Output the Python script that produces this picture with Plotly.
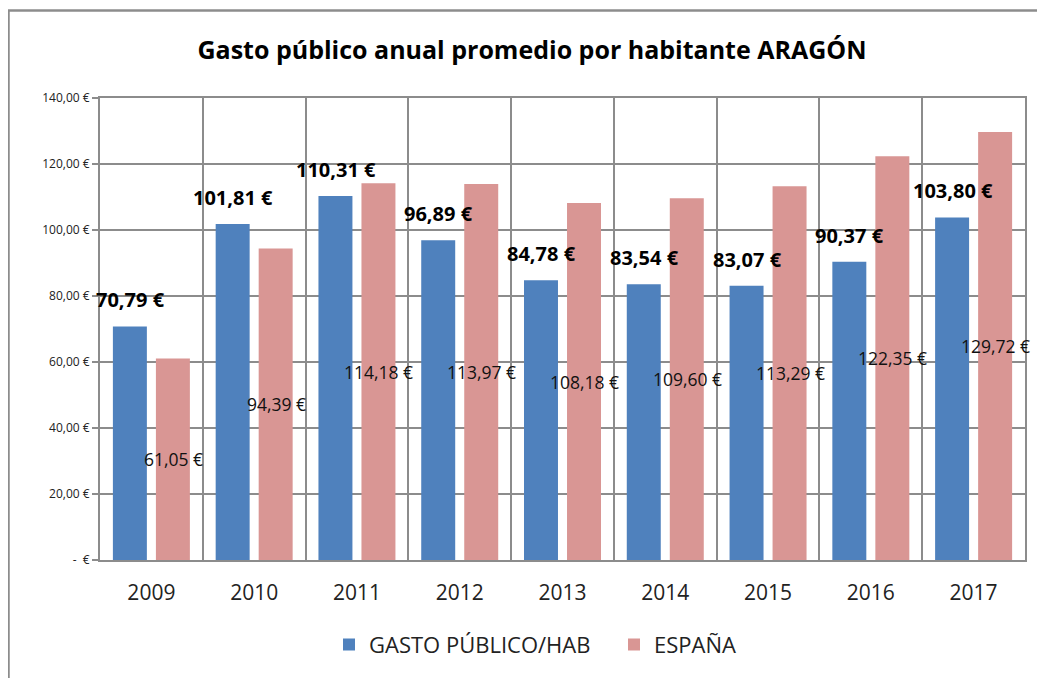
import plotly.graph_objects as go

years = ["2009", "2010", "2011", "2012", "2013", "2014", "2015", "2016", "2017"]
gasto = [70.79, 101.81, 110.31, 96.89, 84.78, 83.54, 83.07, 90.37, 103.80]
espana = [61.05, 94.39, 114.18, 113.97, 108.18, 109.60, 113.29, 122.35, 129.72]
ytick_vals = [0, 20, 40, 60, 80, 100, 120, 140]
ytick_text = ["-  €", "20,00 €", "40,00 €", "60,00 €", "80,00 €", "100,00 €", "120,00 €", "140,00 €"]

BLUE = "#4F81BD"
PINK = "#D99694"
GRID = "#8C8C8C"
FONT = "Open Sans"

def eur(v):
    return f"{v:.2f}".replace(".", ",") + " €"

fig = go.Figure()
fig.add_trace(go.Bar(x=years, y=gasto, name="GASTO PÚBLICO/HAB", marker_color=BLUE,
                     marker_line_width=0))
fig.add_trace(go.Bar(x=years, y=espana, name="ESPAÑA", marker_color=PINK,
                     marker_line_width=0))

annotations = []
for i, (g, e) in enumerate(zip(gasto, espana)):
    annotations.append(dict(x=i, y=g, text=eur(g), showarrow=False, xref="x", yref="y",
                            xanchor="center", yanchor="bottom", xshift=-21, yshift=11,
                            font=dict(family=FONT, size=20, color="#000000", weight="bold")))
    annotations.append(dict(x=i, y=e / 2, text=eur(e), showarrow=False, xref="x", yref="y",
                            xanchor="center", yanchor="middle", xshift=22,
                            font=dict(family=FONT, size=17.5, color="#111111")))

# page body adds an 8px offset; figure is sized to compensate
W, H = 1037, 670
ml, mr, mt, mb = 92, 20, 90, 116
pw, ph = W - ml - mr, H - mt - mb

def fx(px):
    return (px - ml) / pw

def fy(py):
    return (H - mb - py) / ph

fig.update_layout(
    width=W, height=H,
    margin=dict(l=ml, r=mr, t=mt, b=mb),
    paper_bgcolor="white", plot_bgcolor="white",
    barmode="group", bargap=0.163, bargroupgap=0.21,
    title=dict(text="<b>Gasto público anual promedio por habitante ARAGÓN</b>",
               x=fx(524), xref="paper", xanchor="center", y=1 - 42 / H, yanchor="middle",
               font=dict(family=FONT, size=25, color="#000000")),
    font=dict(family=FONT, color="#222222"),
    xaxis=dict(type="category", range=[-0.5, len(years) - 0.5], tickson="boundaries",
               showgrid=True, gridcolor=GRID,
               gridwidth=2, showline=True, linecolor=GRID, linewidth=2, mirror=True,
               ticks="", tickfont=dict(size=21, color="#222222"), ticklabelstandoff=13),
    yaxis=dict(range=[0, 140], tickvals=ytick_vals, ticktext=ytick_text, showgrid=True,
               gridcolor=GRID, gridwidth=2, showline=True, linecolor=GRID,
               linewidth=2, mirror=True, zeroline=False, ticks="outside", ticklen=6,
               tickcolor=GRID, tickwidth=2,
               tickfont=dict(size=12, color="#222222")),
    legend=dict(orientation="h", x=fx(321), xanchor="left", y=fy(639), yanchor="middle",
                font=dict(size=22, color="#222222"), itemwidth=30,
                entrywidth=240, entrywidthmode="pixels"),
    annotations=annotations,
    shapes=[
        dict(type="line", xref="paper", yref="paper", x0=fx(0.5), x1=fx(0.5),
             y0=fy(H + 5), y1=fy(2), line=dict(color=GRID, width=2.5), layer="below"),
        dict(type="line", xref="paper", yref="paper", x0=fx(0), x1=fx(W + 5),
             y0=fy(2), y1=fy(2), line=dict(color=GRID, width=2.5), layer="below"),
    ],
)

fig.write_html("out.html")
